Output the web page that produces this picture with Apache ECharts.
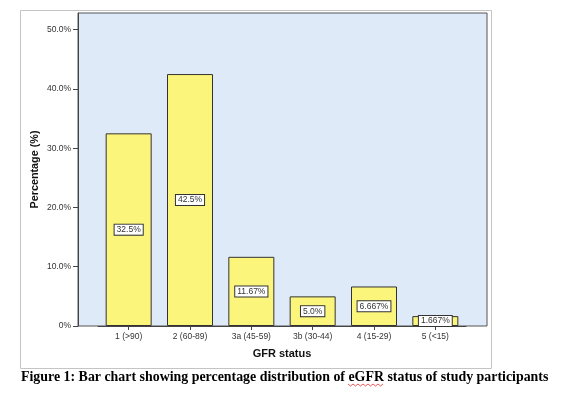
<!DOCTYPE html>
<html>
<head>
<meta charset="utf-8">
<script src="https://cdn.jsdelivr.net/npm/echarts@6/dist/echarts.min.js"></script>
<style>
    html, body { margin: 0; padding: 0; background: #fff; }
    #chart { width: 562px; height: 396px; }
</style>
</head>
<body>
<div id="chart"></div>
<script>
// GFR categories and percentage of participants
var categories = ['1 (>90)', '2 (60-89)', '3a (45-59)', '3b (30-44)', '4 (15-29)', '5 (<15)'];
var percentValues = [32.5, 42.5, 11.67, 5.0, 6.667, 1.667];
var barLabels = ['32.5%', '42.5%', '11.67%', '5.0%', '6.667%', '1.667%'];
var yTicks = [0, 10, 20, 30, 40, 50];
var yTickLabels = ['0%', '10.0%', '20.0%', '30.0%', '40.0%', '50.0%'];

(function () {
    var myChart = echarts.init(document.getElementById('chart'));

    var labelFont = 'Liberation Sans, Arial, sans-serif';

    var option = {
        backgroundColor: '#fff',
        animation: false,
        title: {
            text: 'Figure 1: Bar chart showing percentage distribution of eGFR status of study participants',
            left: 21,
            top: 370,
            padding: 0,
            textStyle: {
                fontFamily: 'Liberation Serif, Times New Roman, serif',
                fontWeight: 'bold',
                fontSize: 13.9,
                color: '#000'
            }
        },
        graphic: [
            {
                // outer picture frame
                type: 'rect',
                shape: { x: 20.5, y: 10.5, width: 471, height: 358 },
                style: { fill: 'none', stroke: '#c4c4c4', lineWidth: 1 },
                z: -1
            },
            {
                // spell-check squiggle under eGFR
                type: 'polyline',
                shape: {
                    points: [[348, 384], [350.5, 386], [353, 384], [355.5, 386], [358, 384], [360.5, 386],
                             [363, 384], [365.5, 386], [368, 384], [370.5, 386], [373, 384], [375.5, 386],
                             [378, 384], [380.5, 386], [383, 384]]
                },
                style: { fill: 'none', stroke: '#e03030', lineWidth: 0.8 }
            }
        ],
        grid: [
            {
                // plot frame with pale blue fill
                left: 78,
                top: 13,
                width: 409,
                height: 313,
                show: true,
                backgroundColor: '#dfeaf8',
                borderColor: '#555',
                borderWidth: 1
            },
            {
                left: 98,
                right: 96,
                top: 13,
                bottom: 70
            }
        ],
        xAxis: [
            { gridIndex: 0, type: 'value', show: false },
            {
                gridIndex: 1,
                type: 'category',
                data: categories,
                name: 'GFR status',
                nameLocation: 'middle',
                nameGap: 22,
                nameMoveOverlap: false,
                nameTextStyle: {
                    fontFamily: labelFont,
                    fontWeight: 'bold',
                    fontSize: 11,
                    color: '#111'
                },
                axisLine: { show: true, lineStyle: { color: '#444' } },
                axisTick: { show: true, alignWithLabel: true, length: 4, lineStyle: { color: '#444' } },
                axisLabel: {
                    fontFamily: labelFont,
                    fontSize: 8.5,
                    color: '#333',
                    margin: 6
                },
                splitLine: { show: false }
            }
        ],
        yAxis: [
            { gridIndex: 0, type: 'value', show: false },
            {
                gridIndex: 1,
                type: 'value',
                min: 0,
                max: 52.8,
                offset: 20,
                name: 'Percentage (%)',
                nameLocation: 'middle',
                nameGap: 37,
                nameMoveOverlap: false,
                nameTextStyle: {
                    fontFamily: labelFont,
                    fontWeight: 'bold',
                    fontSize: 10.8,
                    color: '#111'
                },
                axisLine: { show: true, lineStyle: { color: '#444' } },
                axisTick: { show: true, length: 5, customValues: yTicks, lineStyle: { color: '#444' } },
                axisLabel: {
                    fontFamily: labelFont,
                    fontSize: 8.5,
                    color: '#333',
                    margin: 7,
                    customValues: yTicks,
                    formatter: function (v) {
                        var i = yTicks.indexOf(Math.round(v * 1000) / 1000);
                        return i >= 0 ? yTickLabels[i] : '';
                    }
                },
                splitLine: { show: false }
            }
        ],
        series: [
            {
                type: 'bar',
                xAxisIndex: 1,
                yAxisIndex: 1,
                barWidth: 46,
                data: percentValues,
                itemStyle: {
                    color: '#fbf57c',
                    borderColor: '#333',
                    borderWidth: 1
                },
                label: {
                    show: true,
                    position: 'inside',
                    fontFamily: labelFont,
                    fontSize: 8.5,
                    color: '#333',
                    backgroundColor: '#fff',
                    borderColor: '#333',
                    borderWidth: 1,
                    padding: [1, 2, 0, 2],
                    formatter: function (p) {
                        return barLabels[p.dataIndex];
                    }
                }
            }
        ]
    };

    myChart.setOption(option);
})();
</script>
</body>
</html>
